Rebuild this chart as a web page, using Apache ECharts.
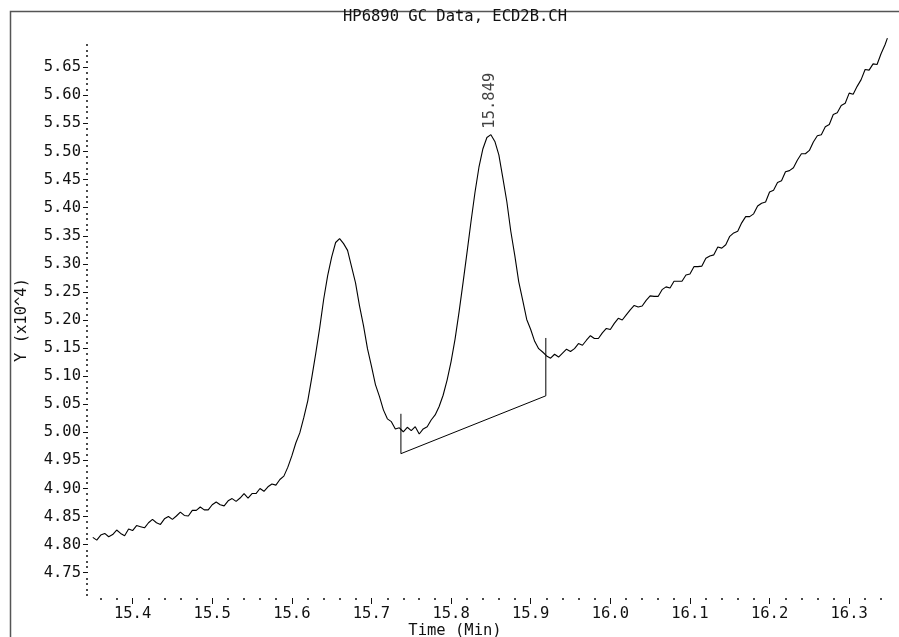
<!DOCTYPE html>
<html><head><meta charset="utf-8">
<script src="https://cdn.jsdelivr.net/npm/echarts@6/dist/echarts.min.js"></script>
<style>html,body{margin:0;padding:0;background:#fff}#c{width:899px;height:637px}</style>
</head><body><div id="c"></div>
<script>
const titleText = 'HP6890 GC Data, ECD2B.CH';
const xName = 'Time (Min)';
const yName = 'Y (x10^4)';

const times = [
15.350,15.355,15.360,15.365,15.370,15.375,15.380,15.385,15.390,15.395,
15.400,15.405,15.410,15.415,15.420,15.425,15.430,15.435,15.440,15.445,
15.450,15.455,15.460,15.465,15.470,15.475,15.480,15.485,15.490,15.495,
15.500,15.505,15.510,15.515,15.520,15.525,15.530,15.535,15.540,15.545,
15.550,15.555,15.560,15.565,15.570,15.575,15.580,15.585,15.590,15.595,
15.600,15.605,15.610,15.615,15.620,15.625,15.630,15.635,15.640,15.645,
15.650,15.655,15.660,15.665,15.670,15.675,15.680,15.685,15.690,15.695,
15.700,15.705,15.710,15.715,15.720,15.725,15.730,15.735,15.740,15.745,
15.750,15.755,15.760,15.765,15.770,15.775,15.780,15.785,15.790,15.795,
15.800,15.805,15.810,15.815,15.820,15.825,15.830,15.835,15.840,15.845,
15.850,15.855,15.860,15.865,15.870,15.875,15.880,15.885,15.890,15.895,
15.900,15.905,15.910,15.915,15.920,15.925,15.930,15.935,15.940,15.945,
15.950,15.955,15.960,15.965,15.970,15.975,15.980,15.985,15.990,15.995,
16.000,16.005,16.010,16.015,16.020,16.025,16.030,16.035,16.040,16.045,
16.050,16.055,16.060,16.065,16.070,16.075,16.080,16.085,16.090,16.095,
16.100,16.105,16.110,16.115,16.120,16.125,16.130,16.135,16.140,16.145,
16.150,16.155,16.160,16.165,16.170,16.175,16.180,16.185,16.190,16.195,
16.200,16.205,16.210,16.215,16.220,16.225,16.230,16.235,16.240,16.245,
16.250,16.255,16.260,16.265,16.270,16.275,16.280,16.285,16.290,16.295,
16.300,16.305,16.310,16.315,16.320,16.325,16.330,16.335,16.340,16.345,
16.348
];
const values = [
4.813,4.808,4.817,4.820,4.814,4.818,4.826,4.820,4.816,4.828,
4.825,4.834,4.832,4.830,4.839,4.845,4.839,4.836,4.846,4.850,
4.845,4.851,4.858,4.852,4.851,4.861,4.861,4.867,4.862,4.862,
4.871,4.876,4.871,4.869,4.878,4.882,4.877,4.883,4.891,4.883,
4.891,4.891,4.900,4.895,4.903,4.908,4.906,4.916,4.922,4.938,
4.958,4.981,4.999,5.026,5.056,5.097,5.140,5.186,5.237,5.279,
5.312,5.338,5.345,5.336,5.324,5.295,5.266,5.225,5.190,5.149,
5.118,5.085,5.064,5.040,5.024,5.019,5.006,5.008,5.001,5.009,
5.003,5.010,4.997,5.006,5.010,5.022,5.031,5.046,5.066,5.093,
5.126,5.166,5.214,5.266,5.320,5.375,5.427,5.472,5.505,5.525,
5.530,5.518,5.494,5.453,5.411,5.358,5.315,5.268,5.235,5.201,
5.183,5.162,5.149,5.143,5.136,5.132,5.139,5.134,5.141,5.148,
5.144,5.149,5.158,5.155,5.164,5.172,5.167,5.167,5.177,5.185,
5.183,5.194,5.203,5.200,5.209,5.218,5.226,5.223,5.225,5.235,
5.243,5.242,5.242,5.254,5.259,5.257,5.269,5.269,5.269,5.280,
5.282,5.295,5.295,5.296,5.310,5.314,5.316,5.330,5.328,5.334,
5.349,5.355,5.358,5.373,5.384,5.384,5.389,5.403,5.408,5.410,
5.428,5.431,5.445,5.448,5.464,5.466,5.471,5.485,5.496,5.496,
5.502,5.517,5.528,5.530,5.544,5.548,5.566,5.569,5.582,5.586,
5.604,5.602,5.616,5.628,5.646,5.645,5.656,5.655,5.674,5.690,
5.702
];

const xMajorTicks = [15.4,15.5,15.6,15.7,15.8,15.9,16.0,16.1,16.2,16.3];
const xMinorTicks = [15.36,15.38,15.42,15.44,15.46,15.48,15.52,15.54,15.56,15.58,
  15.62,15.64,15.66,15.68,15.72,15.74,15.76,15.78,15.82,15.84,15.86,15.88,
  15.92,15.94,15.96,15.98,16.02,16.04,16.06,16.08,16.12,16.14,16.16,16.18,
  16.22,16.24,16.26,16.28,16.32,16.34];
const yMajorTicks = [4.75,4.80,4.85,4.90,4.95,5.00,5.05,5.10,5.15,5.20,5.25,5.30,
  5.35,5.40,5.45,5.50,5.55,5.60,5.65];
const yMinorTicks = [4.71,4.72,4.73,4.74,4.76,4.77,4.78,4.79,4.81,4.82,4.83,4.84,
  4.86,4.87,4.88,4.89,4.91,4.92,4.93,4.94,4.96,4.97,4.98,4.99,
  5.01,5.02,5.03,5.04,5.06,5.07,5.08,5.09,5.11,5.12,5.13,5.14,
  5.16,5.17,5.18,5.19,5.21,5.22,5.23,5.24,5.26,5.27,5.28,5.29,
  5.31,5.32,5.33,5.34,5.36,5.37,5.38,5.39,5.41,5.42,5.43,5.44,
  5.46,5.47,5.48,5.49,5.51,5.52,5.53,5.54,5.56,5.57,5.58,5.59,
  5.61,5.62,5.63,5.64,5.66,5.67,5.68,5.69];

const baselineTimes = [15.737, 15.737, 15.919, 15.919];
const baselineValues = [5.033, 4.962, 5.065, 5.168];

const peakTimes = [15.849];
const peakValues = [5.530];
const peakLabels = ['15.849'];

const font = 'DejaVu Sans Mono';
const txt = '#111';
const X_MIN = 15.344, X_MAX = 16.35, Y_MIN = 4.705, Y_MAX = 5.695;

const chart = echarts.init(document.getElementById('c'));
chart.setOption({
  animation: false,
  backgroundColor: '#fff',
  title: {
    text: titleText, left: 343, top: 9, padding: 0,
    textStyle: { fontFamily: font, fontSize: 15.5, fontWeight: 'normal', color: txt }
  },
  graphic: [{
    type: 'rect', silent: true, z: -10,
    shape: { x: 10.5, y: 11.5, width: 1000, height: 1000 },
    style: { fill: null, stroke: '#555', lineWidth: 1.5 }
  }],
  grid: { left: 88, right: 10, top: 42, bottom: 39, containLabel: false, outerBoundsMode: 'none' },
  xAxis: [
    {
      type: 'value', min: X_MIN, max: X_MAX, position: 'bottom',
      axisLine: { show: false }, splitLine: { show: false },
      axisTick: { show: true, customValues: xMajorTicks, length: 6, lineStyle: { color: txt, width: 1 } },
      axisLabel: { customValues: xMajorTicks, formatter: v => v.toFixed(1), margin: 8,
        fontFamily: font, fontSize: 15.5, color: txt },
      name: xName, nameLocation: 'middle', nameGap: 25, nameMoveOverlap: false,
      nameTextStyle: { fontFamily: font, fontSize: 15.5, color: txt, padding: [0, 67, 0, 0] }
    },
    {
      type: 'value', min: X_MIN, max: X_MAX, position: 'bottom',
      axisLine: { show: false }, splitLine: { show: false },
      axisTick: { show: true, customValues: xMinorTicks, length: 2, lineStyle: { color: txt, width: 1.5 } },
      axisLabel: { show: false }
    }
  ],
  yAxis: [
    {
      type: 'value', min: Y_MIN, max: Y_MAX, position: 'left',
      axisLine: { show: false }, splitLine: { show: false },
      axisTick: { show: true, customValues: yMajorTicks, length: 5, lineStyle: { color: txt, width: 1 } },
      axisLabel: { customValues: yMajorTicks, formatter: v => v.toFixed(2), margin: 7,
        fontFamily: font, fontSize: 15.5, color: txt },
      name: yName, nameLocation: 'middle', nameGap: 58, nameMoveOverlap: false,
      nameTextStyle: { fontFamily: font, fontSize: 15.5, color: txt }
    },
    {
      type: 'value', min: Y_MIN, max: Y_MAX, position: 'left',
      axisLine: { show: false }, splitLine: { show: false },
      axisTick: { show: true, customValues: yMinorTicks, length: 2, lineStyle: { color: txt, width: 1.5 } },
      axisLabel: { show: false }
    }
  ],
  series: [
    {
      type: 'line', xAxisIndex: 0, yAxisIndex: 0, clip: false,
      data: times.map((t, i) => [t, values[i]]),
      symbol: 'none', showSymbol: false, silent: true,
      lineStyle: { color: '#000', width: 1.1 }
    },
    {
      type: 'line', xAxisIndex: 0, yAxisIndex: 0, clip: false,
      data: baselineTimes.map((t, i) => [t, baselineValues[i]]),
      symbol: 'none', showSymbol: false, silent: true,
      lineStyle: { color: '#000', width: 1 }
    },
    {
      type: 'scatter', xAxisIndex: 0, yAxisIndex: 0, silent: true,
      data: peakTimes.map((t, i) => [t, peakValues[i]]),
      symbolSize: 0,
      label: {
        show: true, position: 'top', distance: 6, rotate: 90,
        align: 'left', verticalAlign: 'middle',
        formatter: p => peakLabels[p.dataIndex],
        fontFamily: font, fontSize: 15.5, color: txt
      }
    }
  ]
});
</script>
</body></html>
